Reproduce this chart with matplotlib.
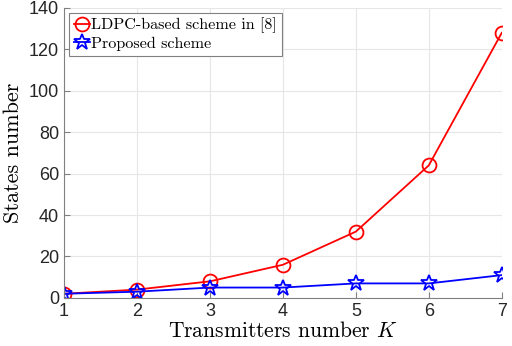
import matplotlib
matplotlib.use("Agg")
import matplotlib.pyplot as plt

K = [1, 2, 3, 4, 5, 6, 7]
ldpc_states = [2, 4, 8, 16, 32, 64, 128]
proposed_states = [2, 3, 5, 5, 7, 7, 11]
y_ticks = [0, 20, 40, 60, 80, 100, 120, 140]

plt.rcParams["mathtext.fontset"] = "cm"

fig = plt.figure(figsize=(5.12, 3.46), dpi=100)
ax = fig.add_axes([0.125, 0.139, 0.855, 0.838])

ax.plot(K, ldpc_states, color="red", marker="o", markersize=10, markerfacecolor="none",
        markeredgewidth=1.3, linewidth=1.3, label="LDPC-based scheme in [8]")
ax.plot(K, proposed_states, color="blue", marker="*", markersize=12, markerfacecolor="none",
        markeredgewidth=1.3, linewidth=1.3, label="Proposed scheme")

ax.set_xlim(1, 7)
ax.set_ylim(0, 140)
ax.set_xticks(K)
ax.set_yticks(y_ticks)
ax.grid(True, color="#e6e6e6", linewidth=0.8)
ax.set_axisbelow(True)
for s in ax.spines.values():
    s.set_color("#808080")
ax.spines["top"].set_visible(False)
ax.spines["right"].set_visible(False)
ax.tick_params(colors="#262626", labelsize=13, direction="in", length=4)
for lbl in ax.get_xticklabels() + ax.get_yticklabels():
    lbl.set_family("Liberation Sans")
ax.tick_params(axis="both", color="#808080")

ax.set_xlabel(r"Transmitters number $K$", fontsize=15.5, family="cmr10", labelpad=1)
ax.set_ylabel("States number", fontsize=16, family="cmr10", labelpad=4)

leg = ax.legend(loc="upper left", handlelength=1.0, handletextpad=0.1,
                borderpad=0.3, labelspacing=0.2, fancybox=False, framealpha=1,
                edgecolor="#808080", borderaxespad=0.3,
                prop={"family": "cmr10", "size": 11.6})
leg.get_frame().set_linewidth(0.8)

fig.savefig("out.png", dpi=100)
